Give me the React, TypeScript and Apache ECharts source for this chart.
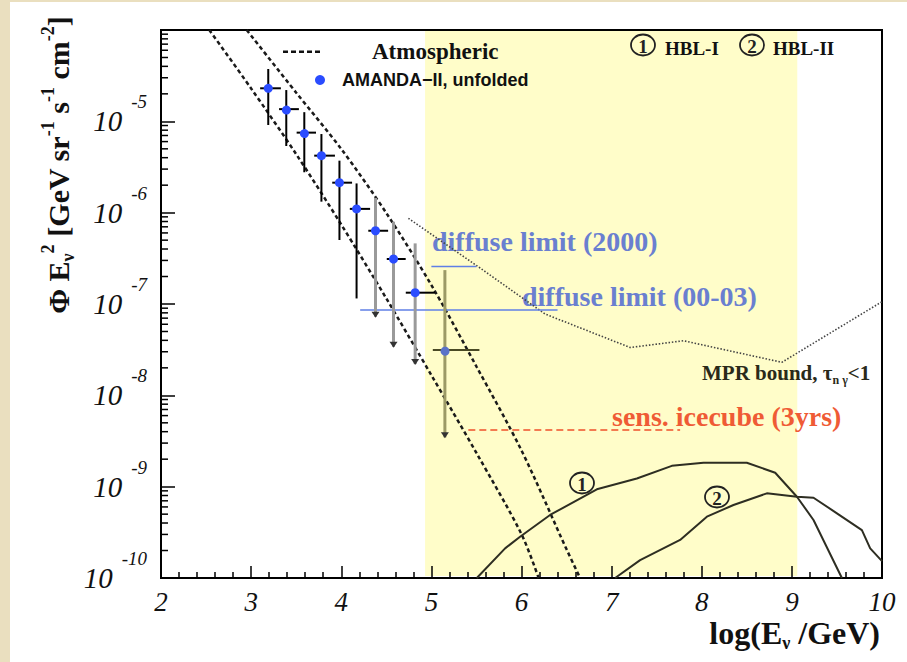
import React, { useEffect, useRef } from 'react';
import * as echarts from 'echarts';

// ---------------- data ----------------
const yDecades = [-10, -9, -8, -7, -6, -5, -4];

const bandX = [4.93, 9.06];

const amandaX = [3.19, 3.39, 3.59, 3.78, 3.98, 4.17, 4.38, 4.58, 4.82, 5.15];
const amandaY = [2.3e-5, 1.36e-5, 7.52e-6, 4.21e-6, 2.13e-6, 1.1e-6, 6.34e-7, 3.11e-7, 1.33e-7, 3.13e-8];
const amandaYHigh = [3.74e-5, 2.2e-5, 1.26e-5, 7.26e-6, 3.71e-6, 2.09e-6, 1.45e-6, 7.96e-7, 4.61e-7, 2.35e-7];
const amandaYLow = [9.12e-6, 5.37e-6, 2.77e-6, 1.32e-6, 5.02e-7, 1.15e-7, 7.26e-8, 3.4e-8, 2.2e-8, 3.47e-9];
const amandaXLow = [3.1, 3.31, 3.505, 3.7, 3.9, 4.095, 4.3, 4.505, 4.716, 5.016];
const amandaXHigh = [3.33, 3.53, 3.72, 3.93, 4.12, 4.32, 4.52, 4.715, 5.04, 5.533];
const amandaUpperLimit = [0, 0, 0, 0, 0, 0, 1, 1, 1, 1];

const atmLowX = [2.536, 3.0, 3.5, 4.0, 4.5, 5.0, 5.5, 6.0, 6.19];
const atmLowY = [1.0e-4, 2.29e-5, 4.37e-6, 7.41e-7, 1.15e-7, 1.66e-8, 2.34e-9, 3.02e-10, 1.0e-10];

const atmHighX = [2.951, 3.5, 4.0, 4.5, 5.0, 5.5, 6.0, 6.5, 6.65];
const atmHighY = [1.0e-4, 2.06e-5, 4.98e-6, 9.91e-7, 1.61e-7, 2.07e-8, 2.49e-9, 2.06e-10, 1.0e-10];

const mprX = [4.745, 5.54, 6.262, 7.205, 7.797, 8.889, 10.0];
const mprY = [8.67e-7, 2.48e-7, 7.76e-8, 3.34e-8, 3.96e-8, 2.3e-8, 1.06e-7];

const hbl1X = [5.504, 5.818, 5.984, 6.317, 6.836, 7.28, 7.668, 8.019, 8.5, 8.815, 9.056, 9.24, 9.555];
const hbl1Y = [1.0e-10, 2.11e-10, 2.83e-10, 4.9e-10, 9.35e-10, 1.23e-9, 1.69e-9, 1.83e-9, 1.83e-9, 1.42e-9, 7.76e-10, 4.32e-10, 1.0e-10];

const hbl2X = [7.039, 7.316, 7.76, 8.057, 8.352, 8.722, 9.056, 9.24, 9.5, 9.777, 9.869, 10.0];
const hbl2Y = [1.0e-10, 1.57e-10, 2.61e-10, 4.69e-10, 6.3e-10, 8.45e-10, 7.76e-10, 7.57e-10, 5.11e-10, 3.35e-10, 2.11e-10, 1.53e-10];

const diffuse2000X = [5.0, 5.5];
const diffuse2000Y = 2.57e-7;
const diffuse0003X = [4.21, 6.4];
const diffuse0003Y = 8.59e-8;
const icecubeX = [5.41, 7.76];
const icecubeY = 4.17e-9;

// ---------------- styling ----------------
const SERIF = 'Liberation Serif';
const SANS = 'Liberation Sans';
const X_MIN = 2;
const X_MAX = 10;
const Y_MIN = 1e-10;
const Y_MAX = 1e-4;

const minorTickValues: number[] = [];
yDecades.slice(0, -1).forEach((e) => {
  for (let k = 2; k <= 9; k++) minorTickValues.push(k * Math.pow(10, e));
});

function circled(cx: number, cy: number, digit: string) {
  return {
    type: 'group',
    children: [
      {
        type: 'ellipse',
        shape: { cx, cy, rx: 12, ry: 10.5 },
        style: { fill: 'none', stroke: '#222', lineWidth: 1.8 },
      },
      {
        type: 'text',
        x: cx,
        y: cy + 1,
        style: {
          text: digit,
          fontFamily: SERIF,
          fontWeight: 'bold',
          fontSize: 19,
          fill: '#222',
          align: 'center',
          verticalAlign: 'middle',
        },
      },
    ],
  };
}

function label(x: number, y: number, text: string, size: number, color: string, family = SERIF) {
  return {
    type: 'text',
    x,
    y,
    style: {
      text,
      fontFamily: family,
      fontWeight: 'bold',
      fontSize: size,
      fill: color,
      align: 'left',
      verticalAlign: 'middle',
    },
  };
}

function buildOption() {
  const pair = (xs: number[], ys: number[]) => xs.map((x, i) => [x, ys[i]]);
  const hLine = (xs: number[], y: number) => xs.map((x) => [x, y]);

  const errData = amandaX.map((x, i) => [
    x,
    amandaY[i],
    amandaXLow[i],
    amandaXHigh[i],
    amandaYLow[i],
    amandaYHigh[i],
    amandaUpperLimit[i],
  ]);

  return {
    animation: false,
    backgroundColor: 'transparent',
    grid: {
      left: 151,
      right: 25,
      top: 28,
      bottom: 84,
      show: true,
      borderColor: '#000',
      borderWidth: 2,
      backgroundColor: 'transparent',
    },
    xAxis: {
      type: 'value',
      min: X_MIN,
      max: X_MAX,
      interval: 1,
      axisLine: { show: true, lineStyle: { color: '#000', width: 2 } },
      axisTick: { show: true, inside: true, length: 12, lineStyle: { color: '#000', width: 1.5 } },
      minorTick: { show: true, splitNumber: 5, length: 6, lineStyle: { color: '#000', width: 1.5 } },
      splitLine: { show: false },
      axisLabel: {
        fontFamily: SERIF,
        fontStyle: 'italic',
        fontSize: 27,
        color: '#111',
        margin: 10,
      },
    },
    yAxis: {
      type: 'log',
      logBase: 10,
      min: Y_MIN,
      max: Y_MAX,
      axisLine: { show: true, lineStyle: { color: '#000', width: 2 } },
      axisTick: { show: true, inside: true, length: 14, lineStyle: { color: '#000', width: 1.5 } },
      splitLine: { show: false },
      axisLabel: {
        margin: 14,
        showMinLabel: true,
        showMaxLabel: true,
        formatter: (v: number) => {
          const e = Math.round(Math.log10(v));
          if (e === -4) return '';
          return `{b|10}{s|${e}}`;
        },
        rich: {
          b: {
            fontFamily: SERIF,
            fontStyle: 'italic',
            fontSize: 29,
            lineHeight: 58,
            color: '#111',
            verticalAlign: 'middle',
          },
          s: {
            fontFamily: SERIF,
            fontStyle: 'italic',
            fontSize: 19,
            lineHeight: 19,
            color: '#111',
            verticalAlign: 'top',
            padding: [0, 0, 0, 9],
          },
        },
      },
    },
    series: [
      {
        name: 'band',
        type: 'custom',
        z: -1,
        silent: true,
        data: [[bandX[0], Y_MIN, bandX[1], Y_MAX]],
        encode: { x: [0, 2], y: [1, 3] },
        renderItem: (_p: any, api: any) => {
          const a = api.coord([api.value(0), api.value(3)]);
          const b = api.coord([api.value(2), api.value(1)]);
          return {
            type: 'rect',
            shape: { x: a[0], y: a[1], width: b[0] - a[0], height: b[1] - a[1] - 2 },
            style: { fill: '#fffdc9' },
          };
        },
      },
      {
        name: 'yminor',
        type: 'custom',
        silent: true,
        data: minorTickValues.map((v) => [X_MIN, v]),
        encode: { x: 0, y: 1 },
        renderItem: (_p: any, api: any) => {
          const p = api.coord([api.value(0), api.value(1)]);
          return {
            type: 'line',
            shape: { x1: p[0], y1: p[1], x2: p[0] + 7, y2: p[1] },
            style: { stroke: '#000', lineWidth: 1.5 },
          };
        },
      },
      {
        name: 'Atmospheric low',
        type: 'line',
        data: pair(atmLowX, atmLowY),
        symbol: 'none',
        smooth: 0.3,
        silent: true,
        lineStyle: { color: '#1a1a1a', width: 2.5, type: [4, 3] },
        z: 3,
      },
      {
        name: 'Atmospheric high',
        type: 'line',
        data: pair(atmHighX, atmHighY),
        symbol: 'none',
        smooth: 0.3,
        silent: true,
        lineStyle: { color: '#1a1a1a', width: 2.5, type: [4, 3] },
        z: 3,
      },
      {
        name: 'MPR bound',
        type: 'line',
        data: pair(mprX, mprY),
        symbol: 'none',
        silent: true,
        lineStyle: { color: '#444', width: 1.6, type: [1.5, 1.8] },
        z: 3,
      },
      {
        name: 'diffuse 2000',
        type: 'line',
        data: hLine(diffuse2000X, diffuse2000Y),
        symbol: 'none',
        silent: true,
        lineStyle: { color: '#5f7fe6', width: 1.5 },
        z: 3,
      },
      {
        name: 'diffuse 00-03',
        type: 'line',
        data: hLine(diffuse0003X, diffuse0003Y),
        symbol: 'none',
        silent: true,
        lineStyle: { color: '#5f7fe6', width: 1.5 },
        z: 3,
      },
      {
        name: 'icecube',
        type: 'line',
        data: hLine(icecubeX, icecubeY),
        symbol: 'none',
        silent: true,
        lineStyle: { color: '#f0502a', width: 1.5, type: [7, 4] },
        z: 3,
      },
      {
        name: 'HBL-I',
        type: 'line',
        data: pair(hbl1X, hbl1Y),
        symbol: 'none',
        silent: true,
        lineStyle: { color: '#2e2e22', width: 2 },
        z: 3,
      },
      {
        name: 'HBL-II',
        type: 'line',
        data: pair(hbl2X, hbl2Y),
        symbol: 'none',
        silent: true,
        lineStyle: { color: '#2e2e22', width: 2 },
        z: 3,
      },
      {
        name: 'AMANDA-II',
        type: 'custom',
        silent: true,
        z: 5,
        data: errData,
        encode: { x: 0, y: 1 },
        renderItem: (_p: any, api: any) => {
          const x = api.value(0);
          const y = api.value(1);
          const lim = api.value(6);
          const c = api.coord([x, y]);
          const top = api.coord([x, api.value(5)]);
          const bot = api.coord([x, api.value(4)]);
          const l = api.coord([api.value(2), y]);
          const r = api.coord([api.value(3), y]);
          const inBand = x > bandX[0];
          const vColor = lim ? (inBand ? '#9c9a66' : '#9a9a9a') : '#000';
          const hColor = inBand ? '#4a4a24' : '#000';
          const children: any[] = [
            {
              type: 'line',
              shape: { x1: c[0], y1: top[1], x2: c[0], y2: bot[1] },
              style: { stroke: vColor, lineWidth: lim ? 3 : 2 },
            },
          ];
          if (lim) {
            children.push({
              type: 'polygon',
              shape: {
                points: [
                  [c[0] - 4, bot[1] - 5],
                  [c[0] + 4, bot[1] - 5],
                  [c[0], bot[1] + 1],
                ],
              },
              style: { fill: '#333' },
            });
          }
          children.push({
            type: 'line',
            shape: { x1: l[0], y1: c[1], x2: r[0], y2: c[1] },
            style: { stroke: hColor, lineWidth: 2 },
          });
          children.push({
            type: 'circle',
            shape: { cx: c[0], cy: c[1], r: 4.5 },
            style: { fill: inBand ? '#5a72c8' : '#2a4cff' },
          });
          return { type: 'group', children };
        },
      },
    ],
    graphic: [
      // legend
      {
        type: 'line',
        shape: { x1: 273, y1: 49.7, x2: 310, y2: 49.7 },
        style: { stroke: '#111', lineWidth: 2.5, lineDash: [5, 3] },
      },
      label(362, 49.7, 'Atmospheric', 23, '#111'),
      {
        type: 'circle',
        shape: { cx: 310, cy: 78, r: 5 },
        style: { fill: '#2a4cff' },
      },
      label(332, 78, 'AMANDA\u2212II, unfolded', 18, '#111', SANS),
      // HBL key
      circled(633, 43, '1'),
      label(655, 46, 'HBL-I', 19, '#111'),
      circled(742, 43, '2'),
      label(763, 46, 'HBL-II', 19, '#111'),
      // annotations
      label(422, 239, 'diffuse limit (2000)', 28, '#6a7fd0'),
      label(512, 294, 'diffuse limit (00-03)', 28, '#6a7fd0'),
      label(602, 414, 'sens. icecube (3yrs)', 28, '#ef5b35'),
      {
        type: 'text',
        x: 692,
        y: 371,
        style: {
          text: '{a|MPR bound, \u03c4}{s|n \u03b3}{a|<1}',
          align: 'left',
          verticalAlign: 'middle',
          rich: {
            a: { fontFamily: SERIF, fontWeight: 'bold', fontSize: 21, lineHeight: 26, fill: '#2a2a1a', verticalAlign: 'middle' },
            s: { fontFamily: SERIF, fontWeight: 'bold', fontSize: 12, lineHeight: 12, fill: '#2a2a1a', verticalAlign: 'bottom' },
          },
        },
      },
      circled(572, 481, '1'),
      circled(707, 495, '2'),
      // axis titles
      {
        type: 'text',
        x: 870,
        y: 631,
        style: {
          text: '{a|log(E}{s|\u03bd}{a| /GeV)}',
          align: 'right',
          verticalAlign: 'middle',
          rich: {
            a: { fontFamily: SERIF, fontWeight: 'bold', fontSize: 32, lineHeight: 38, fill: '#111', verticalAlign: 'middle' },
            s: { fontFamily: SERIF, fontWeight: 'bold', fontSize: 18, lineHeight: 18, fill: '#111', verticalAlign: 'bottom' },
          },
        },
      },
      {
        type: 'text',
        x: 48,
        y: 163,
        rotation: Math.PI / 2,
        style: {
          text: '{m|\u03a6 E}{sub|\u03bd}{sup|2}{m| [GeV sr}{sup|-1}{m| s}{sup|-1}{m| cm}{sup|-2}{m|]}',
          align: 'center',
          verticalAlign: 'middle',
          rich: {
            m: { fontFamily: SERIF, fontWeight: 'bold', fontSize: 30, lineHeight: 38, fill: '#111', verticalAlign: 'middle' },
            sup: { fontFamily: SERIF, fontWeight: 'bold', fontSize: 18, lineHeight: 18, fill: '#111', verticalAlign: 'top' },
            sub: { fontFamily: SERIF, fontWeight: 'bold', fontSize: 18, lineHeight: 18, fill: '#111', verticalAlign: 'bottom' },
          },
        },
      },
    ],
  };
}

export default function App() {
  const ref = useRef<HTMLDivElement>(null);
  useEffect(() => {
    if (!ref.current) return;
    const chart = echarts.init(ref.current, null, { renderer: 'svg' });
    chart.setOption(buildOption() as any);
    return () => chart.dispose();
  }, []);
  return (
    <div
      style={{
        position: 'absolute',
        left: 0,
        top: 0,
        width: 907,
        height: 662,
        background: '#eadfbf',
        overflow: 'hidden',
      }}
    >
      <div
        ref={ref}
        style={{ position: 'absolute', left: 10, top: 2, width: 897, height: 660, background: '#fff' }}
      />
    </div>
  );
}
